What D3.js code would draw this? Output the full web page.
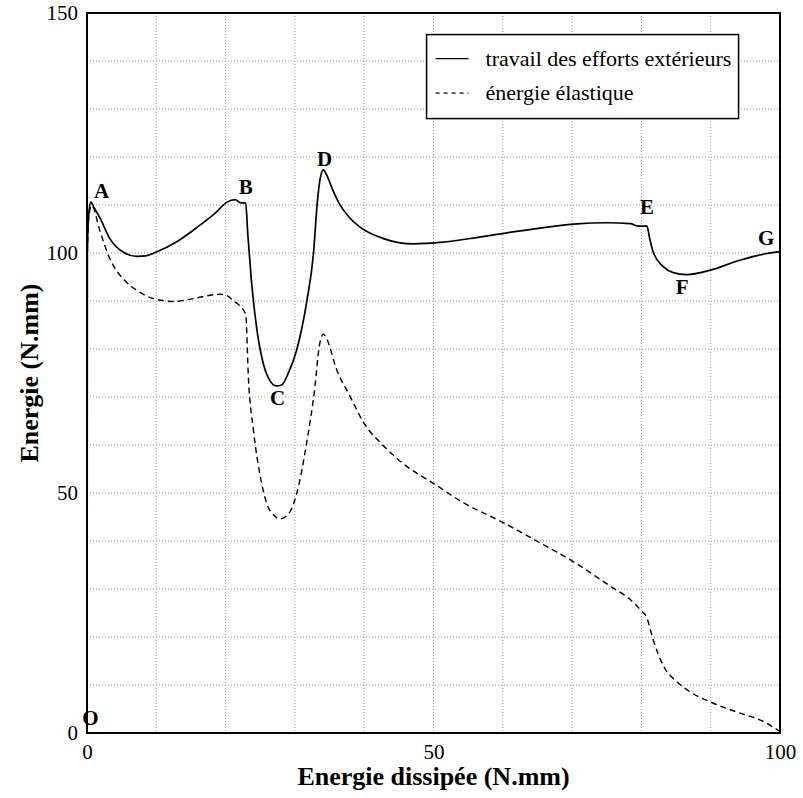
<!DOCTYPE html>
<html>
<head>
<meta charset="utf-8">
<script src="https://cdn.jsdelivr.net/npm/d3@7"></script>
<style>
  html, body { margin: 0; padding: 0; background: #fff; }
  svg { display: block; font-family: "Liberation Serif", "Times New Roman", serif; }
</style>
</head>
<body>
<svg id="chart" width="803" height="798"></svg>
<script>
// Travail des efforts extérieurs (solid curve)
const travailX = [0, 0.05, 0.25, 0.55, 1.0, 1.9, 3.3, 5.2, 7.2, 8.5, 10.0, 12.9, 16.3, 18.5, 20.2, 21.4, 22.1, 22.9, 23.2, 23.7, 24.5, 25.4, 26.4, 27.3, 28.1, 29.0, 30.3, 31.7, 32.7, 33.2, 33.5, 34.1, 34.6, 35.5, 36.4, 37.8, 39.4, 42.8, 47.1, 50.9, 55.7, 60.6, 65.4, 70.2, 75.0, 78.4, 79.6, 80.8, 81.2, 81.7, 83.2, 84.6, 86.5, 89.9, 94.2, 98.1, 100];
const travailY = [0, 100, 108, 110.6, 109.5, 107.2, 103.0, 100.2, 99.3, 99.4, 100.2, 102.3, 105.8, 108.3, 110.6, 111.1, 110.5, 110.4, 104, 94.6, 84.2, 77.2, 73.4, 72.3, 72.5, 74.8, 80.0, 89.8, 100.2, 110, 114.1, 117.3, 116.2, 113, 110.3, 107.5, 105.4, 103.0, 101.9, 102.2, 103.1, 104.2, 105.2, 106.0, 106.3, 106.1, 105.6, 105.6, 103, 100.2, 97.1, 95.9, 95.5, 96.4, 98.5, 99.9, 100.3];

// Energie élastique (dashed curve)
const elastiqueX = [0, 0.05, 0.3, 0.67, 1.9, 3.3, 5.5, 7.2, 9.6, 12.5, 15.3, 19.2, 20.2, 21.1, 22.9, 23.3, 24.0, 25.0, 25.9, 27.1, 27.8, 29.0, 30.3, 31.7, 32.9, 33.5, 34.1, 34.6, 36.0, 37.9, 39.9, 42.8, 46.1, 50.0, 54.3, 60.1, 64.9, 70.5, 75.5, 78.4, 80.1, 80.7, 81.7, 83.2, 85.1, 87.0, 90.4, 93.7, 97.6, 100];
const elastiqueY = [0, 100, 108, 109.9, 104.4, 98.8, 94.2, 92.2, 90.5, 89.9, 90.5, 91.4, 91.1, 90.1, 87.3, 73.7, 63.3, 53.5, 48.0, 45.2, 44.6, 45.5, 50.1, 60.5, 72.3, 80.4, 83.1, 82.1, 75.8, 70.3, 64.7, 59.8, 55.6, 52.0, 48.0, 43.8, 40.0, 35.4, 30.6, 27.8, 25.3, 24.3, 19.4, 13.9, 10.7, 8.6, 6.2, 4.4, 2.4, 0.3];

// Tick labels and grid steps
const xTickValues = [0, 50, 100];
const yTickValues = [0, 50, 100, 150];
const xGridValues = d3.range(0, 101, 10);
const yGridValues = d3.range(0, 151, 10);

// Point labels along the curves
const pointNames = ["O", "A", "B", "C", "D", "E", "F", "G"];
const pointX = [0.5, 2.1, 22.9, 27.5, 34.3, 80.8, 85.9, 98.0];
const pointY = [3.1, 112.9, 113.8, 69.8, 119.7, 109.6, 92.9, 103.1];

// Legend entries
const legendLabels = ["travail des efforts extérieurs", "énergie élastique"];
const legendDashes = [null, "4,4"];

const svg = d3.select("#chart");
const margin = {left: 87, top: 13, right: 23, bottom: 65};
const width = 803 - margin.left - margin.right;
const height = 798 - margin.top - margin.bottom;

const x = d3.scaleLinear().domain([0, 100]).range([0, width]);
const y = d3.scaleLinear().domain([0, 150]).range([height, 0]);

const g = svg.append("g").attr("transform", `translate(${margin.left},${margin.top})`);

// Grid
g.append("g").selectAll("line").data(xGridValues.slice(1, -1)).join("line")
  .attr("x1", d => x(d)).attr("x2", d => x(d))
  .attr("y1", 0).attr("y2", height)
  .attr("stroke", "#999").attr("stroke-width", 1).attr("stroke-dasharray", "1,2");
g.append("g").selectAll("line").data(yGridValues.slice(1, -1)).join("line")
  .attr("x1", 0).attr("x2", width)
  .attr("y1", d => y(d)).attr("y2", d => y(d))
  .attr("stroke", "#999").attr("stroke-width", 1).attr("stroke-dasharray", "1,2");

// Axes
const xAxis = g.append("g").attr("transform", `translate(0,${height})`)
  .call(d3.axisBottom(x).tickValues(xTickValues).tickSize(0).tickPadding(11).tickFormat(d3.format("d")));
const yAxis = g.append("g")
  .call(d3.axisLeft(y).tickValues(yTickValues).tickSize(0).tickPadding(9).tickFormat(d3.format("d")));
[xAxis, yAxis].forEach(a => {
  a.select(".domain").remove();
  a.selectAll("text").attr("font-family", "Liberation Serif").attr("font-size", 21).attr("fill", "#000");
});

// Curves
const line = d3.line().curve(d3.curveMonotoneX).x(d => x(d[0])).y(d => y(d[1]));
const travail = travailX.map((v, i) => [v, travailY[i]]);
const elastique = elastiqueX.map((v, i) => [v, elastiqueY[i]]);

g.append("path").datum(elastique).attr("d", line)
  .attr("fill", "none").attr("stroke", "#000").attr("stroke-width", 1.4)
  .attr("stroke-dasharray", "6,4");
g.append("path").datum(travail).attr("d", line)
  .attr("fill", "none").attr("stroke", "#000").attr("stroke-width", 1.7);

// Frame
g.append("rect").attr("x", 0).attr("y", 0).attr("width", width).attr("height", height)
  .attr("fill", "none").attr("stroke", "#000").attr("stroke-width", 2);

// Point labels
g.append("g").selectAll("text").data(pointNames).join("text")
  .attr("x", (d, i) => x(pointX[i]))
  .attr("y", (d, i) => y(pointY[i]))
  .attr("dy", "0.35em")
  .attr("text-anchor", "middle")
  .attr("font-size", 21).attr("font-weight", "bold")
  .text(d => d);

// Legend
const legend = g.append("g").attr("transform", `translate(${x(49)},${y(145.5)})`);
legend.append("rect").attr("x", 0).attr("y", 0).attr("width", 312).attr("height", 84)
  .attr("fill", "#fff").attr("stroke", "#000").attr("stroke-width", 1.5);
legendLabels.forEach((label, i) => {
  const ly = 24 + i * 34.5;
  const l = legend.append("line").attr("x1", 9).attr("x2", 42).attr("y1", ly).attr("y2", ly)
    .attr("stroke", "#000").attr("stroke-width", 1.4);
  if (legendDashes[i]) l.attr("stroke-dasharray", legendDashes[i]);
  legend.append("text").attr("x", 59).attr("y", ly).attr("dy", "0.33em")
    .attr("font-size", 22).text(label);
});

// Axis titles
svg.append("text")
  .attr("x", margin.left + width / 2).attr("y", 785)
  .attr("text-anchor", "middle").attr("font-size", 26).attr("font-weight", "bold")
  .text("Energie dissipée (N.mm)");
svg.append("text")
  .attr("transform", `translate(38,${margin.top + height / 2}) rotate(-90)`)
  .attr("text-anchor", "middle").attr("font-size", 26).attr("font-weight", "bold")
  .text("Energie (N.mm)");
</script>
</body>
</html>
